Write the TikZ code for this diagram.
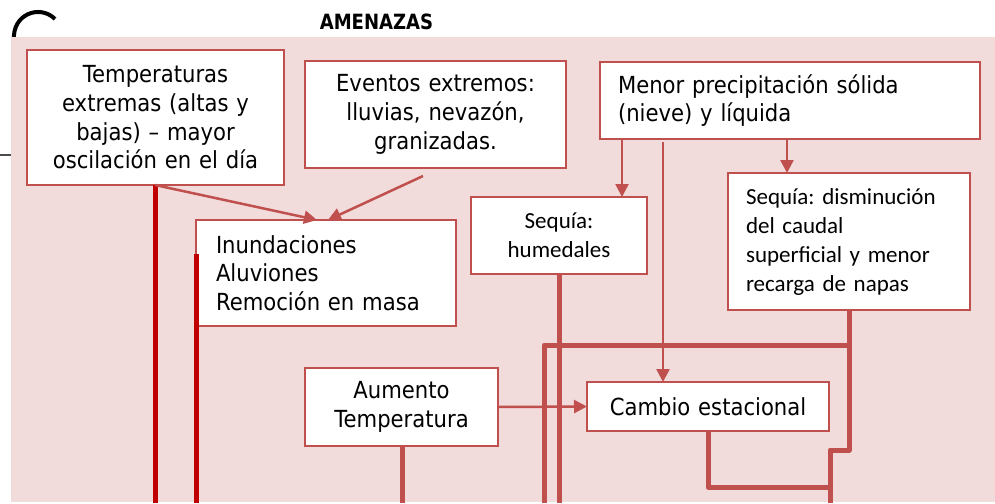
\documentclass[tikz,border=0pt]{standalone}
\usepackage{fontspec}
\setmainfont[FakeStretch=0.9]{DejaVu Sans}
\newfontfamily\titlefont[FakeStretch=0.86]{DejaVu Sans}
\newfontfamily\calib{Carlito}
\usetikzlibrary{arrows.meta}
\definecolor{panel}{HTML}{F2DCDB}
\definecolor{acc}{HTML}{C0504D}
\definecolor{dred}{HTML}{C00000}
\frenchspacing
\begin{document}
\begin{tikzpicture}[x=1pt,y=-1pt,
  box/.style={draw=acc, line width=1.6pt, fill=white, outer sep=0pt, inner ysep=0pt, anchor=north west},
  mtxt/.style={font=\fontsize{23.5}{28.7}\selectfont},
  ctxt/.style={font=\calib\fontsize{23}{29}\selectfont},
  thinl/.style={draw=acc, line width=2.5pt},
  arr/.style={thinl, -{Triangle[length=13pt,width=13pt]}},
  thickl/.style={draw=acc, line width=5pt, line join=round},
  redl/.style={draw=dred, line width=5pt},
]
\useasboundingbox (0,0) rectangle (995,503);
\fill[white] (0,0) rectangle (995,503);
% background fragments
\draw[black, line width=4pt] (14,40) .. controls (12,14) and (40,4) .. (55,19);
\draw[black!70, line width=1.2pt] (0,155) -- (11,155);
\node[font=\titlefont\bfseries\fontsize{21}{24}\selectfont] (title) at (376.5,22) {AMENAZAS};
% panel
\fill[panel] (10.5,37) rectangle (995,502);

% boxes
\node[box, mtxt, minimum width=257pt, minimum height=135pt, text width=247pt, inner xsep=5pt, align=center]
  (T) at (27,50) {Temperaturas\\extremas (altas y\\bajas) – mayor\\oscilación en el día};
\node[box, mtxt, minimum width=261pt, minimum height=107pt, text width=251pt, inner xsep=5pt, align=center]
  (E) at (305,61) {Eventos extremos:\\lluvias, nevazón,\\granizadas.};
\node[box, mtxt, minimum width=380pt, minimum height=77pt, text width=344pt, inner xsep=18pt, align=left]
  (M) at (600,62) {Menor precipitación sólida\\(nieve) y líquida};
\node[box, ctxt, minimum width=176pt, minimum height=77pt, text width=166pt, inner xsep=5pt, align=center]
  (SH) at (471,197) {Sequía:\\humedales};
\node[box, ctxt, minimum width=242pt, minimum height=137pt, text width=206pt, inner xsep=18pt, align=left]
  (SD) at (728,173) {Sequía: disminución\\del caudal\\superficial y menor\\recarga de napas};
\node[box, mtxt, minimum width=260pt, minimum height=106pt, text width=220pt, inner xsep=20pt, align=left]
  (I) at (196,220) {Inundaciones\\Aluviones\\Remoción en masa};
\node[box, mtxt, minimum width=193pt, minimum height=78pt, text width=183pt, inner xsep=5pt, align=center]
  (A) at (305,368) {Aumento\\Temperatura};
\node[box, mtxt, minimum width=242pt, minimum height=49pt, text width=232pt, inner xsep=5pt, align=center]
  (C) at (587,382) {Cambio estacional};

% free ends
\coordinate (e2) at (423,176);
\coordinate (m5) at (663,142);
\coordinate (b1) at (155,503);
\coordinate (b2) at (196.5,503);
\coordinate (b3) at (402,503);
\coordinate (b4) at (544,503);
\coordinate (b5) at (559,503);
\coordinate (b6) at (830,503);
\coordinate (j1) at (849,345);
\coordinate (j2) at (544,345);
\coordinate (j3) at (849,450);
\coordinate (j4) at (830,450);
\coordinate (j5) at (708,487);
\coordinate (j6) at (830,487);
\coordinate (r2) at (196.5,254);

% thick connectors
\draw[thickl] (849,0 |- SD.south) -- (j1) -- (j2) -- (b4);
\draw[thickl] (j1) -- (j3) -- (j4) -- (b6);
\draw[thickl] (708,0 |- C.south) -- (j5) -- (j6);
\draw[thickl] (559,0 |- SH.south) -- (b5);
\draw[thickl] (402,0 |- A.south) -- (b3);
\draw[redl] (155,0 |- T.south) -- (b1);
\draw[redl] (r2) -- (b2);

% thin arrows
\draw[arr] (155,0 |- T.south) -- (317,0 |- I.north);
\draw[arr] (e2) -- (328,0 |- I.north);
\draw[arr] (622,0 |- M.south) -- (622,0 |- SH.north);
\draw[arr] (787,0 |- M.south) -- (787,0 |- SD.north);
\draw[arr] (m5) -- (663,0 |- C.north);
\draw[arr] (A.east) -- (C.west);
\end{tikzpicture}
\end{document}
